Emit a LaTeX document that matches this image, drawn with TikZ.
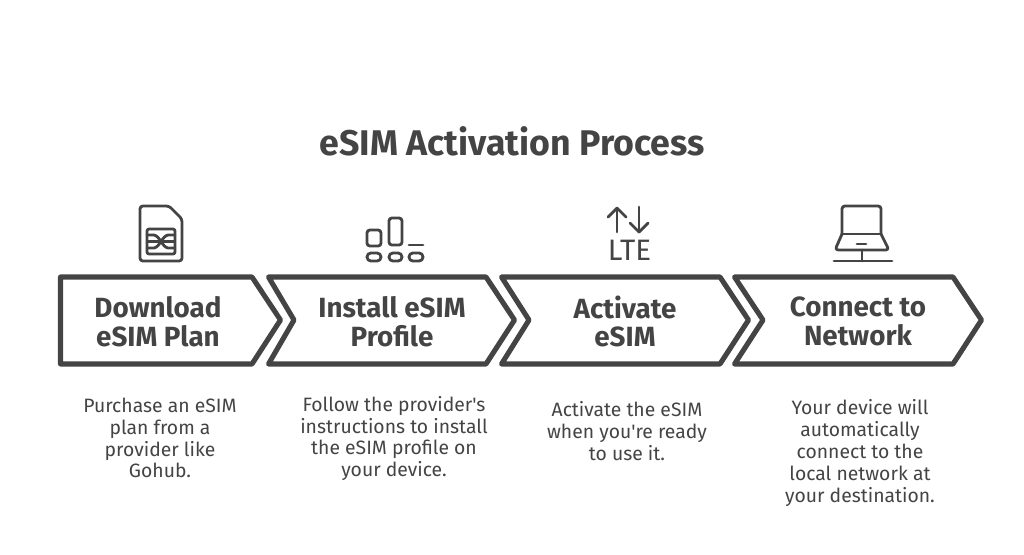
\documentclass[tikz,border=0pt]{standalone}
\usepackage{fontspec}
\setmainfont{Fira Sans}
\usepackage{xcolor}
\definecolor{inkgray}{HTML}{444444}
\newfontfamily\plainfont{Fira Sans}
\tikzset{
	chevronbox/.style={draw=inkgray,line width=1.45pt,line join=round},
	iconline/.style={draw=inkgray,line width=0.8pt,line cap=round,line join=round},
	headlabel/.style={text=inkgray,font=\fontsize{7.9pt}{8.2pt}\selectfont\bfseries,align=center},
	bodylabel/.style={text=inkgray,font=\fontsize{5.5pt}{6.2pt}\plainfont,align=center}
}
\begin{document}
\begin{tikzpicture}[x=0.01cm,y=-0.01cm]
	\useasboundingbox (0,0) rectangle (1024,554);
	\fill[white] (0,0) rectangle (1024,554);
	\node[text=inkgray,font=\fontsize{10.15pt}{11pt}\selectfont\bfseries] (title) at (512,141) {eSIM Activation Process};
	% chevrons
	\draw[chevronbox] (60.5,277) -- (252,277) -- (280.5,320) -- (252,364) -- (60.5,364) -- cycle;
	\draw[chevronbox] (268.5,277) -- (486,277) -- (514.5,320) -- (486,364) -- (268.5,364) -- (294,320) -- cycle;
	\draw[chevronbox] (501.5,277) -- (720,277) -- (748.5,320) -- (720,364) -- (501.5,364) -- (529,320) -- cycle;
	\draw[chevronbox] (734.5,277) -- (953,277) -- (981.5,320) -- (953,364) -- (734.5,364) -- (763,320) -- cycle;
	\node[headlabel] (download) at (158,321.5) {Download\\eSIM Plan};
	\node[headlabel] (install) at (392,321.5) {Install eSIM\\Profile};
	\node[headlabel] (activate) at (625,321.5) {Activate\\eSIM};
	\node[headlabel] (connect) at (858,321.5) {Connect to\\Network};
	% descriptions
	\node[bodylabel] (purchase) at (160,438) {Purchase an eSIM\\plan from a\\provider like\\Gohub.};
	\node[bodylabel] (follow) at (394,438.5) {Follow the provider's\\instructions to install\\the eSIM profile on\\your device.};
	\node[bodylabel] (ready) at (627,431) {Activate the eSIM\\when you're ready\\to use it.};
	\node[bodylabel] (auto) at (860,453) {Your device will\\automatically\\connect to the\\local network at\\your destination.};
	% sim card
	\draw[iconline,rounded corners=0.8pt] (140,206) -- (169,206) -- (182,219) -- (182,261) -- (140,261) -- cycle;
	\draw[iconline,rounded corners=0.6pt] (147,229) rectangle (175,254);
	\draw[iconline] (147,235) -- (154,235) .. controls (160,236) and (162,247) .. (168,248) -- (175,248);
	\draw[iconline] (147,248) -- (154,248) .. controls (160,247) and (162,236) .. (168,235) -- (175,235);
	\draw[iconline] (148,241.5) -- (174,241.5);
	% bars
	\draw[iconline,rounded corners=0.8pt] (367,230) rectangle (381,246);
	\draw[iconline,rounded corners=0.8pt] (389,218) rectangle (402,245);
	\draw[iconline] (409,245) -- (423,245);
	\draw[iconline,rounded corners=1.1pt] (367,253) rectangle (381,261);
	\draw[iconline,rounded corners=1.1pt] (389,253) rectangle (402,261);
	\draw[iconline,rounded corners=1.1pt] (409,253) rectangle (423,261);
	% lte arrows
	\coordinate (upbase) at (617,232);
	\coordinate (uptip) at (617,208);
	\coordinate (downbase) at (639,207);
	\coordinate (downtip) at (639,232);
	\draw[iconline] (upbase) -- (uptip);
	\draw[iconline] (608,217) -- (uptip) -- (626,217);
	\draw[iconline] (downbase) -- (downtip);
	\draw[iconline] (630,223) -- (downtip) -- (648,223);
	\node[text=inkgray,font=\fontsize{8.4pt}{9pt}\plainfont,inner sep=0pt] (lte) at (629.5,250) {LTE};
	% laptop
	\draw[iconline,rounded corners=0.8pt] (842,234) -- (842,206) -- (881,206) -- (881,234);
	\draw[iconline] (842,234) -- (881,234);
	\draw[iconline,rounded corners=0.9pt] (842,234) -- (835,250) -- (889,250) -- (881,234);
	\draw[iconline] (857,244) -- (866,244);
	\draw[iconline] (862,250) -- (862,261);
	\draw[iconline] (834,261) -- (892,261);
\end{tikzpicture}
\end{document}
